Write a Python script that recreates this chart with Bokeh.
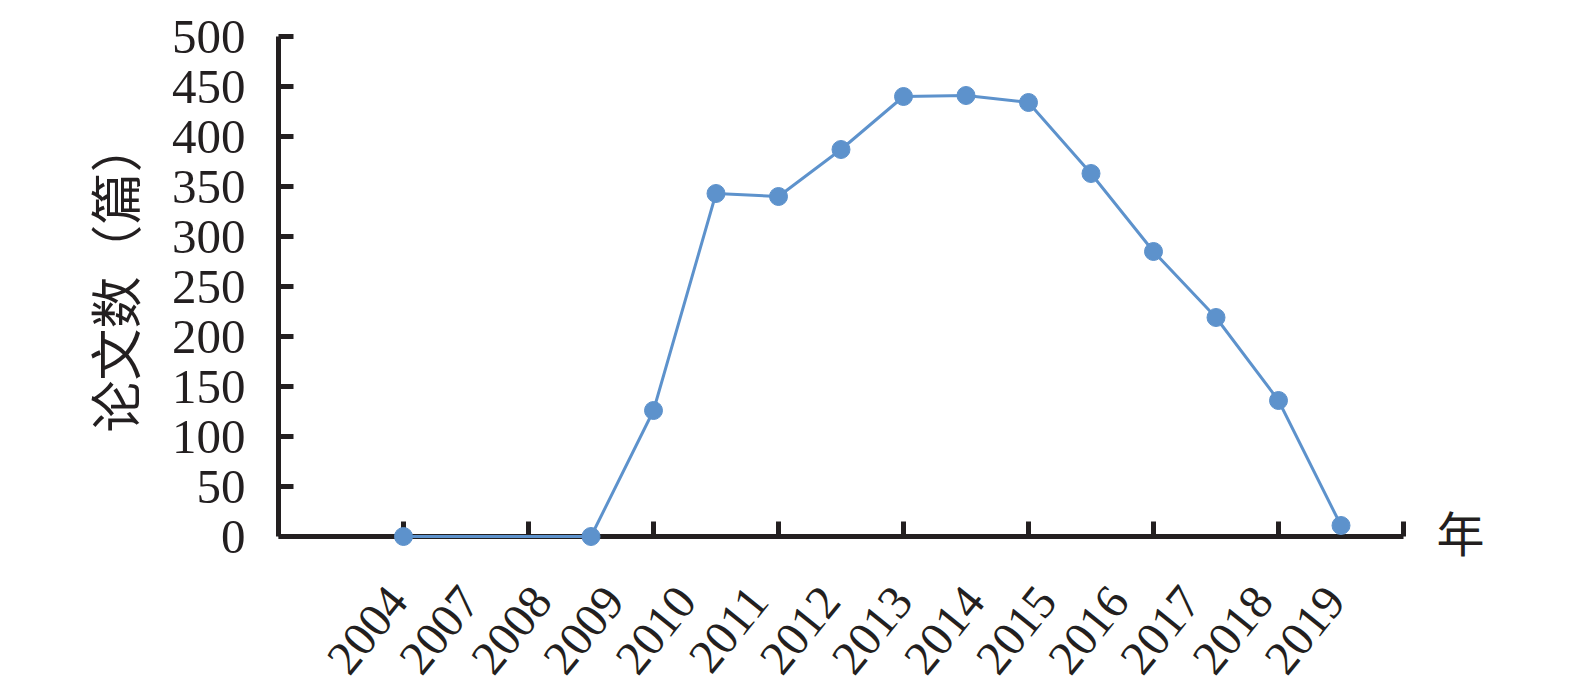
import numpy as np
from bokeh.plotting import figure
from bokeh.models import Range1d, FixedTicker, Label, LabelSet, ColumnDataSource, Title
from bokeh.embed import file_html
from bokeh.resources import INLINE

# ---- data ----
year_labels = ["2004", "2007", "2008", "2009", "2010", "2011", "2012",
               "2013", "2014", "2015", "2016", "2017", "2018", "2019"]
point_slot = [0, 3, 4, 5, 6, 7, 8, 9, 10, 11, 12, 13, 14, 15]
paper_counts = [0, 0, 126, 343, 340, 387, 440, 441, 434, 363, 285, 219, 136, 11]
y_ticks = [0, 50, 100, 150, 200, 250, 300, 350, 400, 450, 500]
y_title = "论文数（篇）"
x_title = "年"

# ---- styling ----
AXIS = "#231F20"
BLUE = "#5D92CC"
SERIF = "Liberation Serif"
CJK = "Noto Sans CJK SC"

x_start, x_end = -2, 16          # extent of the drawn x axis
y_top = 500
FRAME_W, FRAME_H = 1250, 652     # frame extends below/right so texts are not clipped
x_view_end = x_start + FRAME_W / 62.5
y_view_lo = y_top - FRAME_H

label_pos = list(np.linspace(point_slot[0], point_slot[-1], len(year_labels)))
tick_marks = list(range(x_start, x_end + 1, 2))

p = figure(frame_width=FRAME_W, frame_height=FRAME_H, output_backend="svg",
           toolbar_location=None,
           x_range=Range1d(x_start, x_view_end), y_range=Range1d(y_view_lo, y_top),
           min_border_left=278, min_border_top=36, min_border_right=0,
           min_border_bottom=0)
p.outline_line_color = None
p.xgrid.visible = False
p.ygrid.visible = False
p.background_fill_color = "white"
p.border_fill_color = "white"

src = ColumnDataSource(dict(x=point_slot, y=paper_counts))
p.line("x", "y", source=src, line_color=BLUE, line_width=3, level="overlay")
p.scatter("x", "y", source=src, size=18, fill_color=BLUE, line_color=BLUE,
          level="overlay")

# x axis, placed at value 0
xa = p.xaxis[0]
xa.fixed_location = 0
xa.bounds = (x_start, x_end)
xa.ticker = FixedTicker(ticks=[], minor_ticks=tick_marks)
xa.major_label_text_font_size = "0px"
xa.major_label_standoff = 0
xa.major_tick_line_color = None
xa.major_tick_out = 0
xa.major_tick_in = 0
xa.minor_tick_line_color = AXIS
xa.minor_tick_line_width = 5
xa.minor_tick_in = 15
xa.minor_tick_out = 0
xa.axis_line_color = AXIS
xa.axis_line_width = 5

# year labels (rotated), evenly spread under the points
lab_src = ColumnDataSource(dict(x=label_pos, y=[0] * len(label_pos), t=year_labels))
p.add_layout(LabelSet(x="x", y="y", text="t", source=lab_src,
                      angle=51, angle_units="deg",
                      x_offset=-6, y_offset=-56,
                      text_align="right", text_baseline="middle",
                      text_font=SERIF, text_font_size="48px",
                      text_color=AXIS))

# y axis
ya = p.yaxis[0]
ya.bounds = (0, y_top)
ya.ticker = FixedTicker(ticks=y_ticks, minor_ticks=[])
ya.axis_line_color = AXIS
ya.axis_line_width = 5
ya.major_tick_line_color = AXIS
ya.major_tick_line_width = 5
ya.major_tick_in = 15
ya.major_tick_out = 0
ya.minor_tick_line_color = None
ya.major_label_text_font = SERIF
ya.major_label_text_font_size = "49px"
ya.major_label_text_color = AXIS
ya.major_label_standoff = 33

# y axis title, aligned with the 0..500 part of the axis
p.add_layout(Title(text=y_title, align="left", offset=FRAME_H + 36 - 432,
                   text_font=CJK, text_font_size="52px", text_font_style="normal",
                   text_color=AXIS, standoff=36), "left")

p.add_layout(Label(x=x_end, y=0, x_offset=33, y_offset=6, text=x_title,
                   text_font=CJK, text_font_size="48px",
                   text_color=AXIS, text_baseline="middle", text_align="left"))

open("out.html", "w").write(file_html(p, INLINE))
